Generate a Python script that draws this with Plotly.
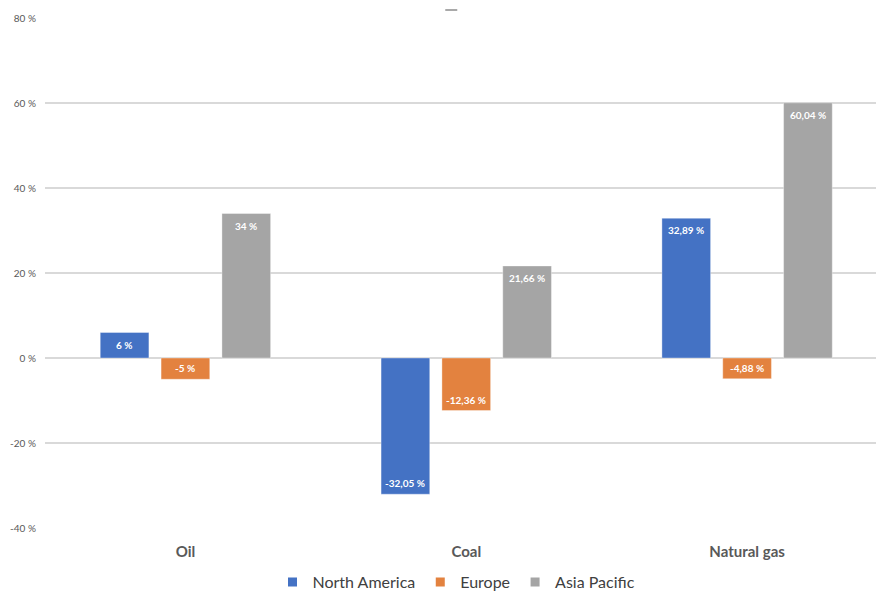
import plotly.graph_objects as go

# Change in primary energy consumption by region and fuel
fuels = ["Oil", "Coal", "Natural gas"]
north_america = [6, -32.05, 32.89]
europe = [-5, -12.36, -4.88]
asia_pacific = [34, 21.66, 60.04]

y_ticks = [-40, -20, 0, 20, 40, 60, 80]

series = [
    ("North America", north_america, "#4472C4"),
    ("Europe", europe, "#E3823F"),
    ("Asia Pacific", asia_pacific, "#A5A5A5"),
]

GROUP_OFFSET_PX = 61  # distance between bar centres inside a group


def pct_label(v):
    if float(v).is_integer():
        return f"{int(v)} %"
    return f"{v:.2f}".replace(".", ",") + " %"


fig = go.Figure()
for i, (name, vals, color) in enumerate(series):
    fig.add_trace(go.Bar(
        name=name,
        x=fuels,
        y=vals,
        marker=dict(color=color, line=dict(color="rgba(255,255,255,0.6)", width=0.6)),
        showlegend=False,
    ))
    # legend entry with a small square swatch
    fig.add_trace(go.Scatter(
        name=name,
        x=[None], y=[None],
        mode="markers",
        marker=dict(symbol="square", size=9, color=color),
        showlegend=True,
    ))
    # value labels inside the bar ends
    for fuel, v in zip(fuels, vals):
        fig.add_annotation(
            x=fuel, y=v, xref="x", yref="y",
            text=pct_label(v),
            showarrow=False,
            xshift=(i - 1) * GROUP_OFFSET_PX,
            yshift=-12 if v > 0 else 11,
            font=dict(family="Lato", size=10, color="white", weight="bold"),
        )

fig.update_layout(
    width=876,
    height=592,
    margin=dict(l=44.5, r=0, t=18, b=64),
    paper_bgcolor="white",
    plot_bgcolor="white",
    barmode="group",
    bargap=0.35,
    bargroupgap=0.2,
    font=dict(family="Lato", color="#595959"),
    showlegend=True,
    legend=dict(
        orientation="h",
        xref="container",
        yref="container",
        x=456.5 / 876,
        xanchor="center",
        y=1 - 582 / 592,
        yanchor="middle",
        font=dict(size=16, color="#404040"),
        itemwidth=30,
        traceorder="normal",
    ),
)

fig.update_xaxes(
    type="category",
    range=[-0.5, 2.459],
    showgrid=False,
    showline=False,
    zeroline=False,
    ticks="",
    tickfont=dict(family="Lato", size=15, color="#595959", weight="bold"),
    ticklabelstandoff=13,
    automargin=False,
)

fig.update_yaxes(
    range=[-40, 80],
    tickvals=y_ticks,
    ticktext=[f"{t} %" for t in y_ticks],
    showgrid=True,
    gridcolor="#D9D9D9",
    gridwidth=1.5,
    zeroline=True,
    zerolinecolor="#D9D9D9",
    zerolinewidth=1.5,
    showline=False,
    ticks="",
    tickfont=dict(family="Lato", size=10, color="#595959"),
    ticklabelstandoff=8,
    automargin=False,
)

# small dash above the plot
fig.add_shape(type="line", xref="paper", yref="paper",
              x0=(445 - 44.5) / 831.5, x1=(457 - 44.5) / 831.5,
              y0=1 + 8 / 510, y1=1 + 8 / 510,
              line=dict(color="#8C8C8C", width=1.5))

fig.write_html("out.html")
